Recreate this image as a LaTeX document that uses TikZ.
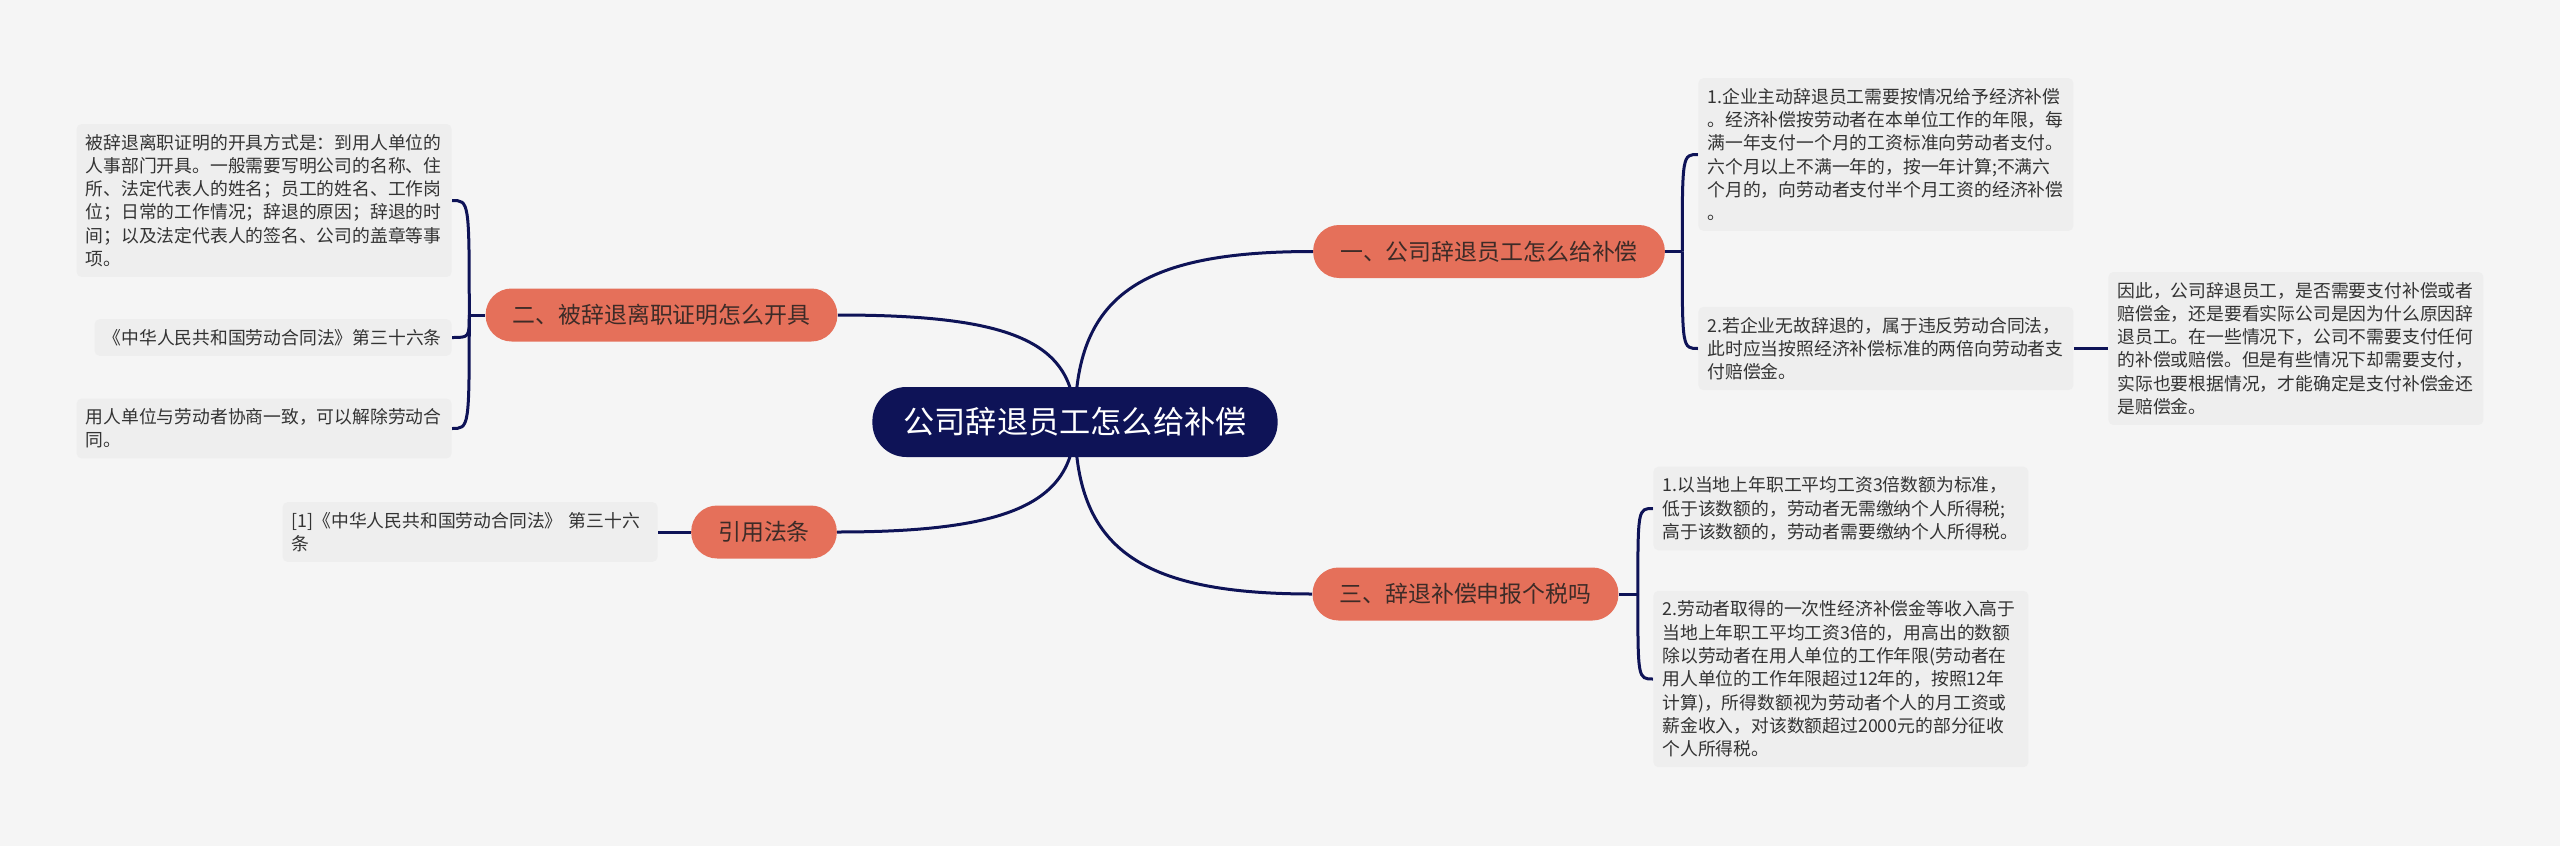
\documentclass[tikz,border=0pt]{standalone}
\usepackage{fontspec}
\setmainfont{Noto Sans CJK SC}
\usetikzlibrary{backgrounds}

\definecolor{pagebg}{HTML}{F5F5F5}
\definecolor{navy}{HTML}{0E1357}
\definecolor{salmon}{HTML}{E5705A}
\definecolor{brtext}{HTML}{3D2B27}
\definecolor{leafgray}{HTML}{EEEEEE}
\definecolor{leaftext}{HTML}{333333}

\begin{document}
\begin{tikzpicture}[x=0.5pt, y=-0.5pt,
        link/.style={draw=navy, line width=1.5pt},
        root/.style={rounded corners=17pt, fill=navy, text=white, minimum height=35pt,
          inner xsep=15.5pt, inner ysep=0pt, font=\fontsize{15.6}{19}\selectfont},
        br/.style={rounded corners=13pt, fill=salmon, text=brtext, minimum height=26.5pt,
          inner xsep=13.5pt, inner ysep=0pt, font=\fontsize{11.45}{14}\selectfont},
        leaf/.style={fill=leafgray, rounded corners=2.5pt, text width=178.5pt,
          inner xsep=4.5pt, inner ysep=5pt, align=left, text=leaftext,
          font=\fontsize{8.9}{11.65}\selectfont}]

      % root and branches
      \node[root] (c) at (1075,422) {公司辞退员工怎么给补偿};
      \node[br] (b1) at (1489,251.5) {一、公司辞退员工怎么给补偿};
      \node[br] (b2) at (661.5,315) {二、被辞退离职证明怎么开具};
      \node[br] (b3) at (1465.5,594) {三、辞退补偿申报个税吗};
      \node[br] (b4) at (764,532) {引用法条};

      % left leaves
      \node[leaf, anchor=east] (l1) at (452,200.5)
        {被辞退离职证明的开具方式是：到用人单位的\\
         人事部门开具。一般需要写明公司的名称、住\\
         所、法定代表人的姓名；员工的姓名、工作岗\\
         位；日常的工作情况；辞退的原因；辞退的时\\
         间；以及法定代表人的签名、公司的盖章等事\\
         项。};
      \node[leaf, anchor=east, text width=169.5pt] (l2) at (452,337.5)
        {《中华人民共和国劳动合同法》第三十六条};
      \node[leaf, anchor=east] (l3) at (452,428.5)
        {用人单位与劳动者协商一致，可以解除劳动合\\
         同。};
      \node[leaf, anchor=east] (l4) at (658,532)
        {[1]《中华人民共和国劳动合同法》~第三十六\\
         条};

      % right leaves
      \node[leaf, anchor=west] (r1) at (1698,154.5)
        {1.企业主动辞退员工需要按情况给予经济补偿\\
         。经济补偿按劳动者在本单位工作的年限，每\\
         满一年支付一个月的工资标准向劳动者支付。\\
         六个月以上不满一年的，按一年计算;不满六\\
         个月的，向劳动者支付半个月工资的经济补偿\\
         。};
      \node[leaf, anchor=west] (r2) at (1698,348.5)
        {2.若企业无故辞退的，属于违反劳动合同法，\\
         此时应当按照经济补偿标准的两倍向劳动者支\\
         付赔偿金。};
      \node[leaf, anchor=west] (r2a) at (2108,348.5)
        {因此，公司辞退员工，是否需要支付补偿或者\\
         赔偿金，还是要看实际公司是因为什么原因辞\\
         退员工。在一些情况下，公司不需要支付任何\\
         的补偿或赔偿。但是有些情况下却需要支付，\\
         实际也要根据情况，才能确定是支付补偿金还\\
         是赔偿金。};
      \node[leaf, anchor=west] (r3) at (1653,508.5)
        {1.以当地上年职工平均工资3倍数额为标准，\\
         低于该数额的，劳动者无需缴纳个人所得税;\\
         高于该数额的，劳动者需要缴纳个人所得税。};
      \node[leaf, anchor=west] (r4) at (1653,679)
        {2.劳动者取得的一次性经济补偿金等收入高于\\
         当地上年职工平均工资3倍的，用高出的数额\\
         除以劳动者在用人单位的工作年限(劳动者在\\
         用人单位的工作年限超过12年的，按照12年\\
         计算)，所得数额视为劳动者个人的月工资或\\
         薪金收入，对该数额超过2000元的部分征收\\
         个人所得税。};

      \begin{scope}[on background layer]
        \fill[pagebg] (0,0) rectangle (2560,846);

        % root to branches
        \draw[link] (c.center) .. controls +(0,-125) and +(-175,0) .. (b1.west);
        \draw[link] (c.center) .. controls +(0,-80) and +(175,0) .. (b2.east);
        \draw[link] (c.center) .. controls +(0,125) and +(-175,0) .. (b3.west);
        \draw[link] (c.center) .. controls +(0,80) and +(175,0) .. (b4.east);

        % branch 1
        \draw[link] (b1.east) -- ++(17,0) coordinate (j1);
        \draw[link] (j1) .. controls (j1 |- r1.west) .. (r1.west);
        \draw[link] (j1) .. controls (j1 |- r2.west) .. (r2.west);
        \draw[link] (r2.east) -- (r2a.west);

        % branch 2
        \draw[link] (b2.west) -- ++(-16,0) coordinate (j2);
        \draw[link] (j2) .. controls (j2 |- l1.east) .. (l1.east);
        \draw[link] (j2) .. controls (j2 |- l2.east) .. (l2.east);
        \draw[link] (j2) .. controls (j2 |- l3.east) .. (l3.east);

        % branch 3
        \draw[link] (b3.east) -- ++(19,0) coordinate (j3);
        \draw[link] (j3) .. controls (j3 |- r3.west) .. (r3.west);
        \draw[link] (j3) .. controls (j3 |- r4.west) .. (r4.west);

        % branch 4
        \draw[link] (b4.west) -- (l4.east);
      \end{scope}
    \end{tikzpicture}
\end{document}
